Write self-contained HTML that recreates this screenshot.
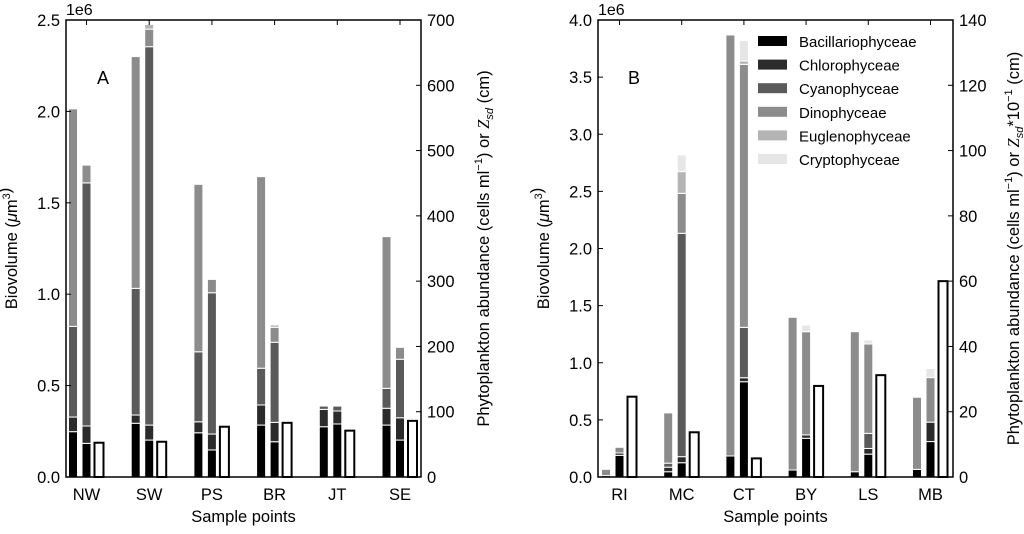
<!DOCTYPE html>
<html><head><meta charset="utf-8"><style>
body{margin:0;background:#fff;}
svg{font-family:"Liberation Sans","DejaVu Sans",sans-serif;}
</style></head><body>
<svg id="chart" width="1024" height="529" viewBox="0 0 1024 529" xmlns="http://www.w3.org/2000/svg"></svg>
<script>
const classes = ["Bacillariophyceae","Chlorophyceae","Cyanophyceae","Dinophyceae","Euglenophyceae","Cryptophyceae"];
const colors = ["#000000","#2b2b2b","#5a5a5a","#8c8c8c","#b4b4b4","#e6e6e6"];
const catsA = ["NW","SW","PS","BR","JT","SE"];
const catsB = ["RI","MC","CT","BY","LS","MB"];
// biovolume (x1e6) stacks [Bac,Chl,Cyan,Dino,Eug,Cryp]
const bioA = [[0.248,0.08,0.496,1.19,0,0],[0.294,0.045,0.693,1.268,0,0],[0.242,0.06,0.383,0.916,0,0],[0.284,0.11,0.201,1.048,0,0],[0.275,0.095,0.018,0,0,0],[0.284,0.092,0.109,0.83,0,0]];
const abundA = [[0.184,0.095,1.33,0.097,0,0],[0.202,0.082,2.07,0.096,0.026,0],[0.148,0.087,0.773,0.073,0,0],[0.193,0.106,0.438,0.082,0.013,0],[0.29,0.071,0.027,0,0,0],[0.202,0.122,0.32,0.065,0,0]];
const zsdA = [52.5,54,77,83,71,86];
const bioB = [[0.012,0,0,0.055,0,0],[0.046,0.04,0.035,0.44,0,0],[0.184,0,0,3.685,0,0],[0.061,0,0,1.337,0,0],[0.046,0,0,1.226,0,0],[0.067,0,0,0.631,0,0]];
const abundB = [[0.19,0.02,0,0.05,0,0],[0.125,0.053,1.955,0.35,0.19,0.146],[0.834,0.035,0.441,2.302,0.029,0.179],[0.339,0.029,0,0.904,0,0.058],[0.2,0.05,0.132,0.782,0,0.035],[0.31,0.17,0,0.39,0,0.08]];
const zsdB = [24.6,13.7,5.7,27.9,31.2,60];
const leftTicksA = ["0.0","0.5","1.0","1.5","2.0","2.5"];
const rightTicksA = ["0","100","200","300","400","500","600","700"];
const leftTicksB = ["0.0","0.5","1.0","1.5","2.0","2.5","3.0","3.5","4.0"];
const rightTicksB = ["0","20","40","60","80","100","120","140"];

const svg=document.getElementById('chart');
const NS="http://www.w3.org/2000/svg";
function mk(tag,attrs,parent){const e=document.createElementNS(NS,tag);for(const k in attrs)e.setAttribute(k,attrs[k]);(parent||svg).appendChild(e);return e;}

function panel(p){
  const g=mk('g',{});
  
  
  const T=20,B=477,L=p.x0,R=p.x1;
  const yL=v=>B-(v/p.lmax)*(B-T);
  const yR=v=>B-(v/p.rmax)*(B-T);
  const xC=i=>p.c0+i*p.dx;
  function stack(vals,cx,nm){
    let acc=0;
    vals.forEach((v,k)=>{ if(v<=0)return;
      const r=mk('rect',{x:cx-4.5,y:yL(acc+v),width:9,height:yL(acc)-yL(acc+v),fill:colors[k],stroke:'#fff','stroke-width':1},g);
      
      
      acc+=v;});
  }
  p.cats.forEach((c,i)=>{
    stack(p.bio[i],xC(i)-13.5,'biovolume-bar-'+c.toLowerCase());
    stack(p.ab[i],xC(i),'abundance-bar-'+c.toLowerCase());
    const r=mk('rect',{x:xC(i)+8,y:yR(p.zsd[i]),width:9,height:B-yR(p.zsd[i]),fill:'#fff',stroke:'#000','stroke-width':2},g);
    
    
    mk('line',{x1:xC(i),x2:xC(i),y1:T,y2:T+5,stroke:'#000'},g);
    mk('line',{x1:xC(i),x2:xC(i),y1:B,y2:B-5,stroke:'#000'},g);
    const t=mk('text',{x:xC(i),y:B+23,'text-anchor':'middle','font-size':16.5},g);t.textContent=c;
    
    
  });
  const fr=mk('rect',{x:L,y:T,width:R-L,height:B-T,fill:'none',stroke:'#000','stroke-width':1.5},g);
  
  
  p.lt.forEach((s,i)=>{const y=B-i*(B-T)/(p.lt.length-1);
    mk('line',{x1:L,x2:L+5,y1:y,y2:y,stroke:'#000'},g);
    const t=mk('text',{x:L-6,y:y+6,'text-anchor':'end','font-size':16.5},g);t.textContent=s;
    
    });
  p.rt.forEach((s,i)=>{const y=B-i*(B-T)/(p.rt.length-1);
    mk('line',{x1:R,x2:R-5,y1:y,y2:y,stroke:'#000'},g);
    const t=mk('text',{x:R+6,y:y+6,'font-size':16.5},g);t.textContent=s;
    
    });
  const e=mk('text',{x:L,y:15,'font-size':16},g);e.textContent='1e6';
  
  
  const pl=mk('text',{x:p.lblx,y:84,'font-size':18},g);pl.textContent=p.label;
  
  
  const xt=mk('text',{x:(L+R)/2,y:522,'text-anchor':'middle','font-size':16.5},g);xt.textContent='Sample points';
  
  
  const yt=mk('text',{x:0,y:0,'text-anchor':'middle','font-size':16.5,transform:`translate(${p.ytx},${(T+B)/2}) rotate(-90)`},g);
  yt.innerHTML='Biovolume (<tspan font-style="italic">μ</tspan>m<tspan font-size="11" dy="-7">3</tspan>)';
  
  
  const rt=mk('text',{x:0,y:0,'text-anchor':'middle','font-size':16.5,transform:`translate(${p.rtx},${(T+B)/2}) rotate(-90)`},g);
  rt.innerHTML=p.rtitle;
  
  
  return g;
}
panel({name:'panel-a',x0:66,x1:421,c0:86.5,dx:62.7,lmax:2.5,rmax:700,cats:catsA,bio:bioA,ab:abundA,zsd:zsdA,lt:leftTicksA,rt:rightTicksA,label:'A',lblx:97,ytx:17,rtx:489,
  rtitle:'Phytoplankton abundance (cells ml<tspan font-size="11" dy="-7">−1</tspan><tspan dy="7">) or </tspan><tspan font-style="italic" font-family="Liberation Serif">Z</tspan><tspan font-style="italic" font-size="11" dy="4">sd</tspan><tspan dy="-4"> (cm)</tspan>'});
panel({name:'panel-b',x0:598,x1:953,c0:619.5,dx:62.2,lmax:4.0,rmax:140,cats:catsB,bio:bioB,ab:abundB,zsd:zsdB,lt:leftTicksB,rt:rightTicksB,label:'B',lblx:628,ytx:549,rtx:1019,
  rtitle:'Phytoplankton abundance (cells ml<tspan font-size="11" dy="-7">−1</tspan><tspan dy="7">) or </tspan><tspan font-style="italic" font-family="Liberation Serif">Z</tspan><tspan font-style="italic" font-size="11" dy="4">sd</tspan><tspan dy="-4">*10</tspan><tspan font-size="11" dy="-7">−1</tspan><tspan dy="7"> (cm)</tspan>'});
const lg=mk('g',{});


classes.forEach((c,k)=>{const y=41+k*23.6;
  const r=mk('rect',{x:758,y:y-5,width:29,height:10,fill:colors[k]},lg);
  
  
  const t=mk('text',{x:799,y:y+6,'font-size':15},lg);t.textContent=c;
  
  });
</script>
</body></html>
